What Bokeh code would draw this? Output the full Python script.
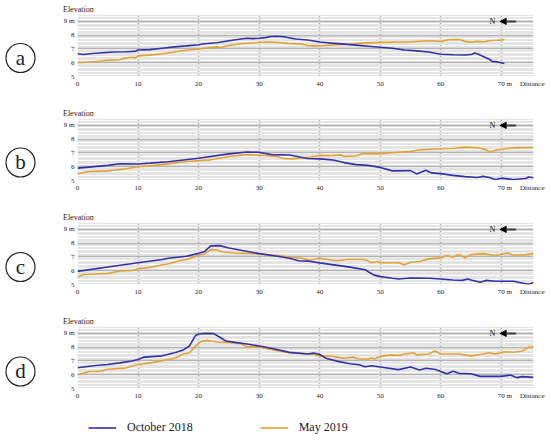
from bokeh.plotting import figure
from bokeh.layouts import row, column
from bokeh.models import Range1d, FixedTicker, Label, Arrow, NormalHead, Legend, LegendItem
from bokeh.embed import file_html
from bokeh.resources import INLINE
from bokeh.core.properties import value

# ---------------- data ----------------
panel_letters = ["a", "b", "c", "d"]
series_names = ["October 2018", "May 2019"]
x_ticks = [0, 10, 20, 30, 40, 50, 60, 70]
y_ticks = [5, 6, 7, 8, 9]
x_tick_text = {70: "\u2002\u200270 m"}
y_tick_text = {9: "9 m"}
x_title = "Distance"
y_title = "Elevation"

a_oct_x = [0, 1, 2, 4, 6, 8, 9.5, 10, 12, 14, 16, 18, 20, 21, 23, 25, 27, 28, 29, 30, 31, 32, 33, 34, 36, 38, 40, 42, 44, 46, 48, 50, 52, 54, 56, 58, 60, 62, 64, 65, 65.6, 66.2, 67, 68, 68.5, 69, 70, 70.5]
a_oct_y = [6.65, 6.6, 6.65, 6.72, 6.78, 6.8, 6.82, 6.92, 6.95, 7.05, 7.15, 7.22, 7.3, 7.38, 7.45, 7.6, 7.72, 7.78, 7.75, 7.78, 7.82, 7.9, 7.92, 7.88, 7.72, 7.65, 7.5, 7.42, 7.35, 7.28, 7.2, 7.12, 7.05, 6.92, 6.86, 6.78, 6.62, 6.58, 6.56, 6.6, 6.7, 6.62, 6.45, 6.25, 6.1, 6.08, 6.0, 5.95]
a_may_x = [0, 2, 4, 5, 7, 8, 9, 9.6, 10, 12, 14, 16, 17, 18, 20, 22, 23, 23.5, 25, 27, 29, 31, 33, 35, 36, 37, 38, 39, 41, 43, 45, 47, 50, 53, 55, 57, 58, 60, 61.5, 63, 64, 65, 66, 67, 68, 70, 70.5]
a_may_y = [6.0, 6.05, 6.12, 6.18, 6.22, 6.35, 6.4, 6.35, 6.5, 6.55, 6.65, 6.78, 6.85, 6.9, 7.0, 7.1, 7.15, 7.1, 7.25, 7.38, 7.45, 7.5, 7.48, 7.4, 7.38, 7.35, 7.25, 7.22, 7.25, 7.3, 7.35, 7.42, 7.48, 7.5, 7.5, 7.58, 7.6, 7.55, 7.68, 7.68, 7.55, 7.48, 7.55, 7.5, 7.6, 7.65, 7.68]

b_oct_x = [0, 5, 7, 10, 12, 15, 20, 25, 28, 30, 32, 35, 38, 40, 42, 44, 46, 48, 50, 52, 55, 56, 57.5, 58.5, 60, 62, 64, 66, 67, 68, 69, 70, 72, 74, 74.5, 75.3]
b_oct_y = [5.9, 6.1, 6.22, 6.2, 6.26, 6.36, 6.62, 6.93, 7.07, 7.05, 6.88, 6.85, 6.6, 6.57, 6.5, 6.3, 6.15, 6.1, 5.95, 5.7, 5.72, 5.48, 5.75, 5.55, 5.5, 5.37, 5.28, 5.22, 5.3, 5.22, 5.07, 5.17, 5.07, 5.15, 5.26, 5.2]
b_may_x = [0, 2, 5, 8, 10, 14, 18, 22, 25, 28, 30, 33, 34, 35.5, 37, 38.5, 40, 42, 43.5, 44, 46, 47, 50, 53, 55, 56, 58, 60, 62, 64, 66, 67.5, 68, 69, 70, 72, 75.3]
b_may_y = [5.5, 5.65, 5.7, 5.85, 6.0, 6.15, 6.38, 6.5, 6.74, 6.88, 6.83, 6.74, 6.6, 6.56, 6.64, 6.7, 6.82, 6.8, 6.86, 6.74, 6.78, 6.95, 6.95, 7.05, 7.1, 7.2, 7.27, 7.3, 7.32, 7.42, 7.38, 7.24, 7.05, 7.2, 7.27, 7.37, 7.4]

c_oct_x = [0, 5, 10, 14, 15, 18, 20, 21, 22, 23.5, 25, 30, 33, 35, 36.5, 38, 40, 45, 47.5, 48, 49, 50, 52, 53, 55, 58, 60, 62, 63.5, 64.5, 65, 66.5, 67.5, 69, 72, 73, 74.5, 75.3]
c_oct_y = [5.95, 6.27, 6.58, 6.82, 6.9, 7.05, 7.26, 7.4, 7.8, 7.82, 7.65, 7.24, 7.05, 6.9, 6.72, 6.7, 6.57, 6.26, 6.07, 5.93, 5.68, 5.57, 5.45, 5.4, 5.47, 5.45, 5.4, 5.33, 5.3, 5.4, 5.33, 5.17, 5.3, 5.24, 5.24, 5.14, 5.02, 5.14]
c_may_x = [0, 1, 5, 7, 9, 10, 12, 13, 15, 17, 18, 20, 21, 22, 23, 24, 26, 30, 33, 35, 37, 38.5, 40, 42, 43, 44.5, 47, 48, 48.5, 49.5, 50, 53, 54, 55, 56.5, 58, 60, 61, 62, 63, 64, 65, 67, 69, 71, 72, 74, 75.3]
c_may_y = [5.55, 5.73, 5.8, 5.98, 6.02, 6.14, 6.24, 6.34, 6.5, 6.74, 6.81, 7.1, 7.24, 7.53, 7.5, 7.36, 7.29, 7.22, 7.1, 7.0, 6.9, 6.76, 6.9, 6.76, 6.72, 6.81, 6.83, 6.72, 6.58, 6.67, 6.58, 6.58, 6.43, 6.62, 6.67, 6.86, 6.93, 7.1, 7.0, 7.17, 6.93, 7.17, 7.24, 7.1, 7.29, 7.12, 7.17, 7.24]

d_oct_x = [0, 3, 5, 7, 9, 10, 11, 14, 16, 17.5, 18.5, 19.5, 20, 21, 22.5, 23.5, 24.5, 26, 28, 30, 32, 35, 38, 39, 40, 41, 43, 45, 46.5, 47.5, 48.5, 50, 53, 55, 56.5, 57.5, 59, 61, 62, 63, 65, 66.5, 70, 71.5, 72.5, 73.5, 75.3]
d_oct_y = [6.51, 6.67, 6.74, 6.86, 7.0, 7.1, 7.28, 7.37, 7.6, 7.8, 8.1, 8.85, 8.95, 9.0, 8.98, 8.72, 8.45, 8.35, 8.23, 8.08, 7.92, 7.62, 7.5, 7.57, 7.47, 7.2, 6.97, 6.8, 6.72, 6.58, 6.65, 6.56, 6.37, 6.56, 6.35, 6.47, 6.4, 6.07, 6.25, 6.1, 6.07, 5.88, 5.88, 5.98, 5.79, 5.86, 5.81]
d_may_x = [0, 2, 3.5, 5, 8, 9, 10, 12, 14, 16, 17.5, 18.5, 19.5, 20.5, 21.5, 23, 25, 27, 28, 30, 33, 35, 37, 39, 40, 42, 44, 45.5, 46.5, 48, 48.5, 49, 50, 52, 53, 54, 55.5, 56, 58, 59, 60, 63, 65, 67, 68, 69, 70.5, 72, 73.5, 74.5, 75, 75.3]
d_may_y = [6.0, 6.23, 6.23, 6.4, 6.49, 6.63, 6.74, 6.86, 7.02, 7.2, 7.51, 7.6, 8.1, 8.44, 8.49, 8.37, 8.35, 8.26, 8.02, 8.02, 7.74, 7.6, 7.56, 7.47, 7.37, 7.33, 7.2, 7.28, 7.14, 7.14, 7.22, 7.15, 7.33, 7.44, 7.4, 7.5, 7.6, 7.44, 7.5, 7.72, 7.5, 7.5, 7.37, 7.5, 7.6, 7.5, 7.67, 7.63, 7.72, 8.02, 7.98, 8.07]

panels_data = [
    (a_oct_x, a_oct_y, a_may_x, a_may_y),
    (b_oct_x, b_oct_y, b_may_x, b_may_y),
    (c_oct_x, c_oct_y, c_may_x, c_may_y),
    (d_oct_x, d_oct_y, d_may_x, d_may_y),
]

# ---------------- style ----------------
BLUE = "#3530a6"
ORANGE = "#e3a236"
SERIF = "Liberation Serif"
TXT = "#222222"
GRID = "#b4b4b4"
MINOR = "#e4e4e4"

X_MAX = 75.3
X_TITLE_POS = 75.1
Y_MIN, Y_MAX = 5, 9.5
PANEL_H = 104
LEFT_W = 48
PANEL_W = 502
TOP_B = 14
FRAME_H = 62
LEGEND_H = 21

minor = [round(5 + 0.1 * k, 1) for k in range(0, 46) if k % 10 != 0]


def make_panel(xo, yo, xm, ym):
    p = figure(width=PANEL_W, height=PANEL_H, x_range=Range1d(0, X_MAX), y_range=Range1d(Y_MIN, Y_MAX),
               output_backend="svg", toolbar_location=None, title=y_title,
               min_border_left=29, min_border_right=PANEL_W - 29 - 456, min_border_top=TOP_B,
               min_border_bottom=PANEL_H - TOP_B - FRAME_H)
    p.outline_line_color = None
    p.background_fill_color = "white"
    p.border_fill_color = "white"

    p.title.text_font = SERIF
    p.title.text_font_size = "8px"
    p.title.text_font_style = "normal"
    p.title.text_color = TXT
    p.title.align = "left"
    p.title.offset = -14.5
    p.title.standoff = 1

    labels = dict(x_tick_text)
    labels[X_TITLE_POS] = x_title
    p.xaxis.ticker = FixedTicker(ticks=x_ticks + [X_TITLE_POS])
    p.xaxis.major_label_overrides = labels
    p.yaxis.ticker = FixedTicker(ticks=y_ticks, minor_ticks=minor)
    p.yaxis.major_label_overrides = y_tick_text
    for ax in (p.xaxis, p.yaxis):
        ax.axis_line_color = None
        ax.major_tick_line_color = None
        ax.minor_tick_line_color = None
        ax.major_tick_out = 0
        ax.major_tick_in = 0
        ax.minor_tick_out = 0
        ax.minor_tick_in = 0
        ax.major_label_text_font = SERIF
        ax.major_label_text_font_size = "7px"
        ax.major_label_text_color = TXT
    p.xaxis.major_label_standoff = 3
    p.yaxis.major_label_standoff = 3

    p.xgrid.ticker = FixedTicker(ticks=x_ticks)
    p.xgrid.grid_line_color = GRID
    p.xgrid.grid_line_width = 1.6
    p.ygrid.grid_line_color = GRID
    p.ygrid.grid_line_width = 1.4
    p.ygrid.minor_grid_line_color = MINOR
    p.ygrid.minor_grid_line_width = 1

    p.line(xm, ym, line_color=ORANGE, line_width=1.6)
    p.line(xo, yo, line_color=BLUE, line_width=1.6)

    p.add_layout(Label(x=69.0, y=9, text="N", text_font=SERIF, text_font_size="8px",
                       text_color=TXT, text_baseline="middle", text_align="right"))
    p.add_layout(Arrow(end=NormalHead(size=6, fill_color="black", line_color="black"),
                       x_start=72.4, y_start=9, x_end=69.8, y_end=9,
                       line_width=2, line_color="#444444"))
    return p


panel_figs = [make_panel(*d) for d in panels_data]
total_h = PANEL_H * len(panel_figs)

# left column with circled letters
lp = figure(width=LEFT_W, height=total_h, x_range=Range1d(0, LEFT_W), y_range=Range1d(total_h, 0),
            output_backend="svg", toolbar_location=None, min_border=0)
lp.axis.visible = False
lp.grid.visible = False
lp.outline_line_color = None
cy = [57.5 + 104.5 * i for i in range(len(panel_letters))]
cx = [20] * len(panel_letters)
lp.circle(x=cx, y=cy, radius=14.5, fill_color=None, line_color="#222222", line_width=1.2)
lp.text(x=cx, y=[c - 0.5 for c in cy], text=panel_letters, text_align="center", text_baseline="middle",
        text_font=value(SERIF), text_font_size="21px", text_color="#222222")

# legend row
lf = figure(width=LEFT_W + PANEL_W, height=LEGEND_H, x_range=Range1d(0, 1), y_range=Range1d(0, 1),
            output_backend="svg", toolbar_location=None, min_border=0)
lf.axis.visible = False
lf.grid.visible = False
lf.outline_line_color = None
nan = float("nan")
r1 = lf.line([nan], [nan], line_color=BLUE, line_width=1.6)
r2 = lf.line([nan], [nan], line_color=ORANGE, line_width=1.6)
legend = Legend(items=[LegendItem(label=series_names[0], renderers=[r1]),
                       LegendItem(label=series_names[1], renderers=[r2])],
                orientation="horizontal", location=(88, 2),
                glyph_width=28, glyph_height=13, label_height=13, label_standoff=11,
                spacing=67, padding=0, margin=0, border_line_color=None,
                background_fill_alpha=0, label_text_font=SERIF,
                label_text_font_size="12px", label_text_color="#222222")
lf.add_layout(legend)

layout = column(row(lp, column(*panel_figs)), lf)

open("out.html", "w").write(file_html(layout, INLINE))
